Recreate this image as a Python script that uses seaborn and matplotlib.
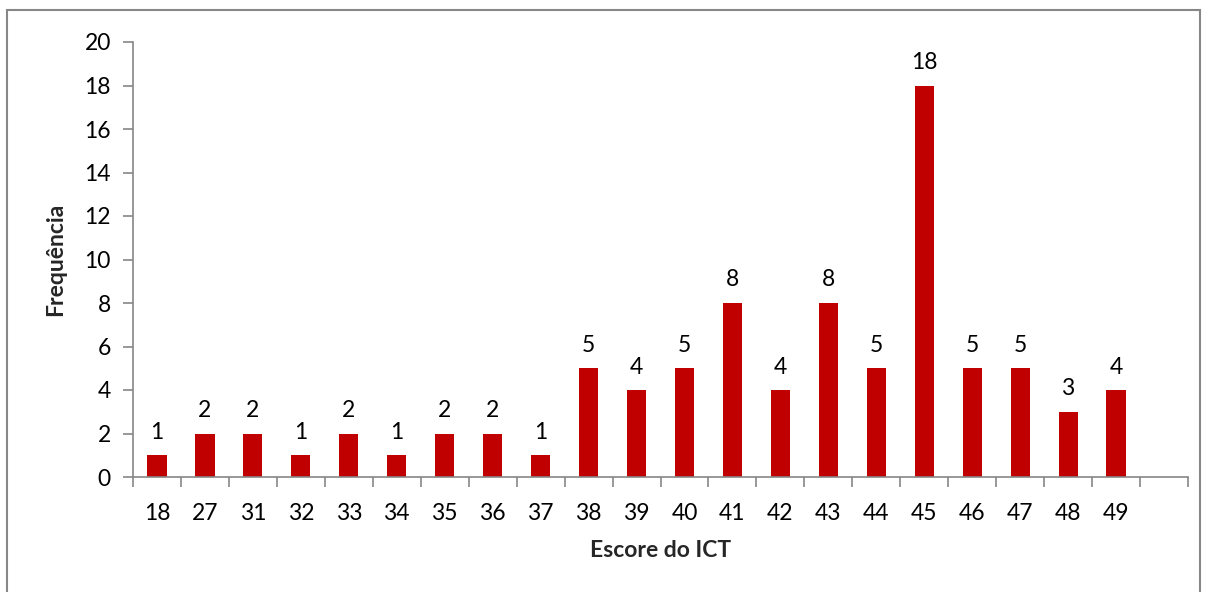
import matplotlib
matplotlib.use("Agg")
import matplotlib.pyplot as plt
import seaborn as sns
import pandas as pd
import numpy as np
from matplotlib.patches import Rectangle

scores = ["18", "27", "31", "32", "33", "34", "35", "36", "37", "38", "39",
          "40", "41", "42", "43", "44", "45", "46", "47", "48", "49"]
freq = [1, 2, 2, 1, 2, 1, 2, 2, 1, 5, 4, 5, 8, 4, 8, 5, 18, 5, 5, 3, 4]

sns.set_theme(style="white")
plt.rcParams['font.family'] = ['Lato', 'DejaVu Sans']

df = pd.DataFrame({"score": scores, "freq": freq})

fig = plt.figure(figsize=(12.07, 5.92), dpi=100)
ax = fig.add_axes([133/1207, 1-477/592, (1188-133)/1207, (477-42)/592])
sns.barplot(data=df, x="score", y="freq", order=scores, color="#C00000",
            saturation=1, width=0.4, ax=ax, linewidth=0)

n_slots = len(scores) + 1
ax.set_xlim(-0.5, n_slots - 0.5)
ax.set_ylim(0, 20)
ax.set_yticks(np.arange(0, 21, 2))

# category boundary ticks, labels centered
ax.set_xticks(np.arange(-0.5, n_slots, 1.0))
ax.set_xticklabels([])
ax.set_xticks(np.arange(len(scores)), minor=True)
ax.set_xticklabels(scores, minor=True)
ax.tick_params(axis="x", which="major", length=7, width=1.2, color="#868686", direction="out")
ax.tick_params(axis="x", which="minor", length=0, pad=19, labelsize=16.5, labelcolor="black")
ax.tick_params(axis="y", length=7, width=1.2, color="#868686", direction="out",
               pad=9, labelsize=16.5, labelcolor="black")
ax.xaxis.set_ticks_position("bottom")
ax.yaxis.set_ticks_position("left")

for s in ["top", "right"]:
    ax.spines[s].set_visible(False)
for s in ["left", "bottom"]:
    ax.spines[s].set_color("#868686")
    ax.spines[s].set_linewidth(1.2)

for i, v in enumerate(freq):
    ax.annotate(str(v), (i, v), xytext=(0, 9), textcoords="offset points",
                ha="center", va="bottom", fontsize=16.5, color="black")

ax.set_xlabel("Escore do ICT", fontsize=16.5, fontweight="bold", labelpad=11)
ax.set_ylabel("Frequência", fontsize=16.5, fontweight="bold", labelpad=13)

fig.patches.append(Rectangle((7/1207, -0.05), (1200-7)/1207, 1.05 - 10/592,
                             transform=fig.transFigure, fill=False,
                             edgecolor="#878787", linewidth=1.5))

fig.savefig("out.png", dpi=100)
